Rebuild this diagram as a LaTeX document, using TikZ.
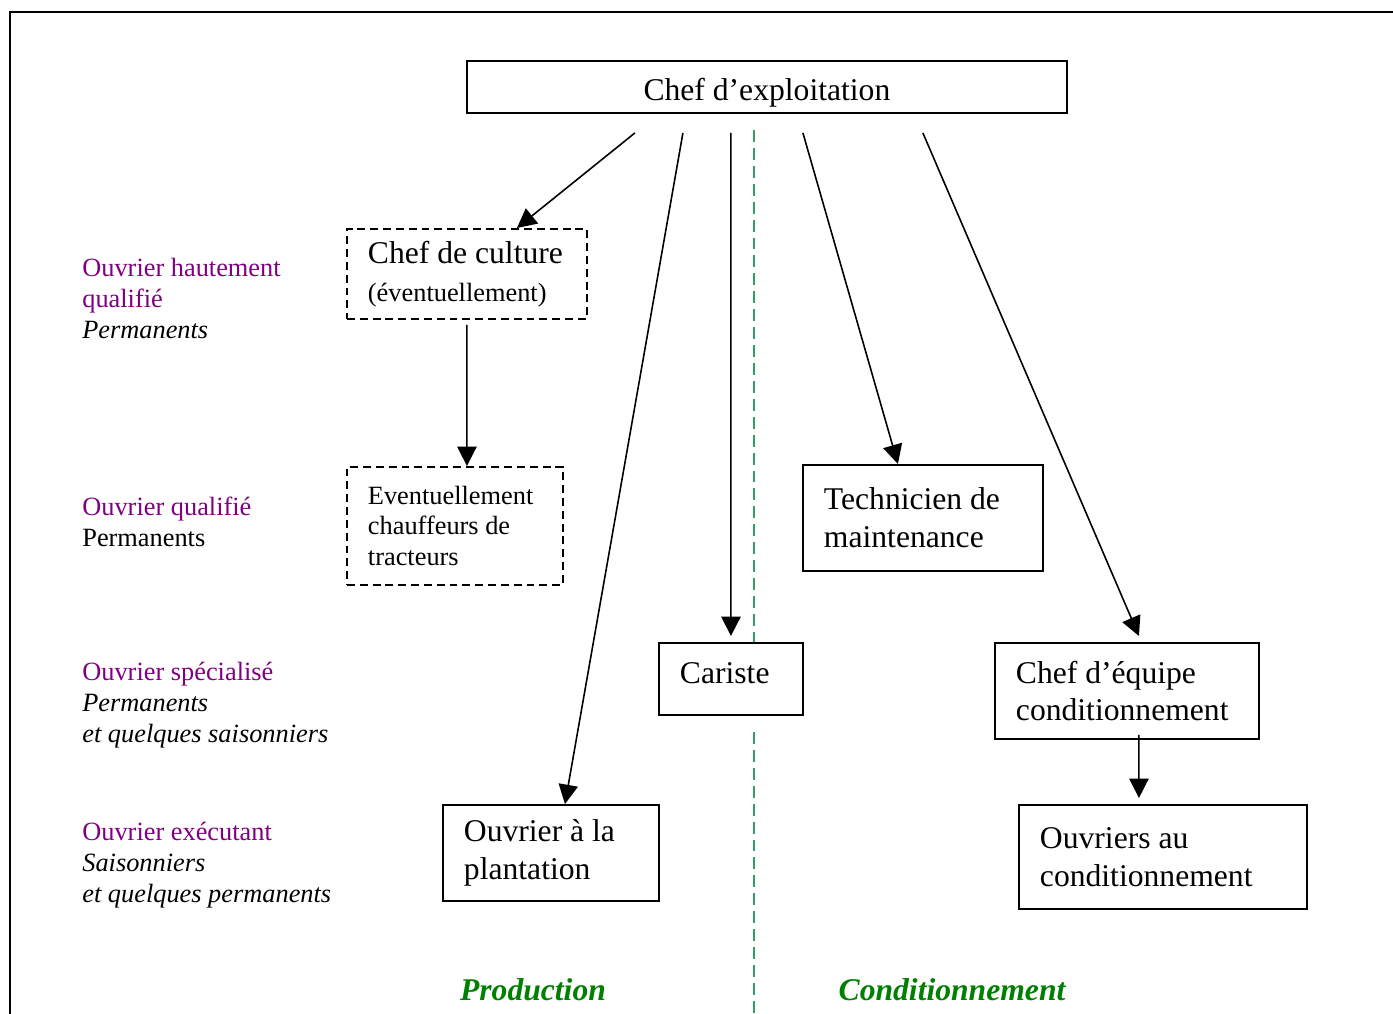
\documentclass[tikz,border=0pt]{standalone}
\usepackage{fontspec}
\setmainfont{Liberation Serif}
\usepackage{xcolor}
\usepackage{tikz}
\usetikzlibrary{arrows.meta,positioning}

\definecolor{ouvpurple}{RGB}{128,0,128}
\definecolor{secgreen}{RGB}{0,128,0}
\definecolor{sepgreen}{RGB}{50,160,100}
\newcommand{\boxfont}{\fontsize{18}{21.5}\selectfont}
\newcommand{\lblfont}{\fontsize{15}{17.6}\selectfont}

\tikzset{
  poste/.style={draw, fill=white, line width=1.1pt, anchor=north west, align=flush left,
    inner xsep=0.42cm, inner ysep=0pt, font=\boxfont},
  optposte/.style={poste, dash pattern=on 4.5pt off 2.8pt},
  lien/.style={line width=0.9pt, -{Triangle[length=11pt,width=11pt]}},
  niveau/.style={anchor=north west, align=flush left, inner sep=0pt, font=\lblfont},
  secteur/.style={font=\boxfont\bfseries\itshape, text=secgreen},
  separation/.style={sepgreen, line width=0.8pt, dash pattern=on 6.8pt off 3.4pt}
}

\begin{document}
\begin{tikzpicture}[x=0.02cm, y=-0.02cm]
    \useasboundingbox (0,0) rectangle (1393,1014);
    % Frame
    \draw[line width=1.4pt] (10,1014) -- (10,12) -- (1393,12);

    % Separation production / conditionnement
    \draw[separation] (754,130) -- (754,644);
    \draw[separation] (754,732) -- (754,1014);

    % Posts
    \node[poste, text width=11.16cm, minimum height=1.04cm, align=flush center, text height=19pt] (chef) at (466,60) {Chef d’exploitation};
    \node[optposte, text width=3.96cm, minimum height=1.8cm] (culture) at (346,228) {Chef de culture\\{\lblfont (éventuellement)}};
    \node[optposte, text width=3.48cm, minimum height=2.36cm, font=\lblfont] (chauffeurs) at (346,466) {Eventuellement\\chauffeurs de\\tracteurs};
    \node[poste, text width=3.96cm, minimum height=2.12cm] (technicien) at (802,464) {Technicien de\\maintenance};
    \node[poste, text width=2.04cm, minimum height=1.44cm, text depth=6.8pt] (cariste) at (658,642) {Cariste};
    \node[poste, text width=4.44cm, minimum height=1.92cm] (equipe) at (994,642) {Chef d’équipe\\conditionnement};
    \node[poste, text width=3.48cm, minimum height=1.92cm] (plantation) at (442,804) {Ouvrier à la\\plantation};
    \node[poste, text width=4.92cm, minimum height=2.08cm] (ouvcond) at (1018,804) {Ouvriers au\\conditionnement};

    % Qualification levels
    \node[niveau] (hq) at (82,258) {\textcolor{ouvpurple}{Ouvrier hautement}\\\textcolor{ouvpurple}{qualifié}\\\textit{Permanents}};
    \node[niveau] (oq) at (82,497) {\textcolor{ouvpurple}{Ouvrier qualifié}\\Permanents};
    \node[niveau] (os) at (82,662) {\textcolor{ouvpurple}{Ouvrier spécialisé}\\\textit{Permanents}\\\textit{et quelques saisonniers}};
    \node[niveau] (oe) at (82,822) {\textcolor{ouvpurple}{Ouvrier exécutant}\\\textit{Saisonniers}\\\textit{et quelques permanents}};

    % Sectors
    \node[secteur] (prod) at (533,990) {Production};
    \node[secteur] (cond) at (952,990) {Conditionnement};

    % Links
    \coordinate (d1) at ([xshift=-2.64cm,yshift=-0.38cm]chef.south);
    \coordinate (d2) at ([xshift=-1.68cm,yshift=-0.38cm]chef.south);
    \coordinate (d3) at ([xshift=-0.72cm,yshift=-0.38cm]chef.south);
    \coordinate (d4) at ([xshift=0.72cm,yshift=-0.38cm]chef.south);
    \coordinate (d5) at ([xshift=3.12cm,yshift=-0.38cm]chef.south);
    \draw[lien] (d1) -- ([xshift=1cm]culture.north);
    \draw[lien] (d2) -- ([xshift=0.28cm]plantation.north);
    \draw[lien] (d3) -- ([yshift=0.12cm]cariste.north);
    \draw[lien] (d4) -- ([xshift=-0.5cm]technicien.north);
    \draw[lien] (d5) -- ([xshift=0.24cm,yshift=0.12cm]equipe.north);
    \draw[lien] ([yshift=-0.1cm]culture.south) -- ([xshift=0.24cm]chauffeurs.north);
    \draw[lien] ([xshift=0.24cm,yshift=0.1cm]equipe.south) -- ([xshift=-0.48cm,yshift=0.12cm]ouvcond.north);
\end{tikzpicture}
\end{document}
